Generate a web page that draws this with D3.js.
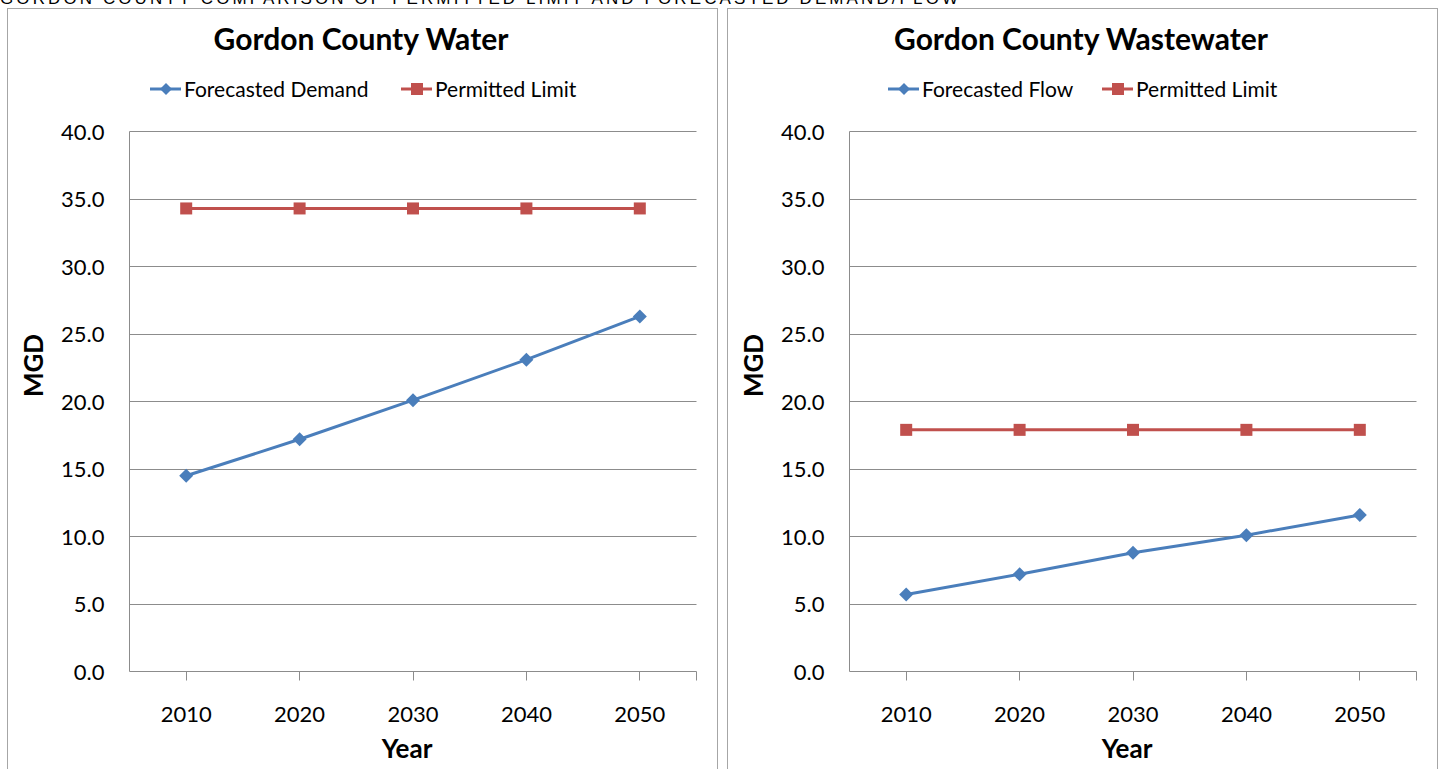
<!DOCTYPE html>
<html>
<head>
<meta charset="utf-8">
<script src="https://cdn.jsdelivr.net/npm/d3@7"></script>
<style>
  body { margin: 0; background: #fff; }
  svg { display: block; font-family: Lato, "Open Sans", sans-serif; }
</style>
</head>
<body>
<div id="chart"></div>
<script>
var years = ["2010", "2020", "2030", "2040", "2050"];
var yTicks = [0, 5, 10, 15, 20, 25, 30, 35, 40];

var waterDemand = [14.5, 17.2, 20.1, 23.1, 26.3];
var waterLimit = [34.3, 34.3, 34.3, 34.3, 34.3];

var wasteFlow = [5.7, 7.2, 8.8, 10.1, 11.6];
var wasteLimit = [17.9, 17.9, 17.9, 17.9, 17.9];

var pageTitle = "GORDON COUNTY COMPARISON OF PERMITTED LIMIT AND FORECASTED DEMAND/FLOW";

var blue = "#4a7ebb";
var red = "#c0504d";

var svgWidth = 1442;
var svgHeight = 769;

var svg = d3.select("#chart")
  .append("svg")
  .attr("width", svgWidth)
  .attr("height", svgHeight);

// heading of the source page, cut by the top edge as in the original
svg.append("text")
  .attr("x", 0)
  .attr("y", 4)
  .attr("font-family", "Liberation Sans, Arial, sans-serif")
  .attr("font-size", "17px")
  .attr("textLength", 958)
  .attr("fill", "#000")
  .text(pageTitle);

function drawPanel(offsetX, title, s1Name, s1, s2Name, s2, legendX) {
  var g = svg.append("g").attr("transform", `translate(${offsetX},0)`);

  g.append("rect")
    .attr("x", 7.5)
    .attr("y", 8.5)
    .attr("width", 710)
    .attr("height", 780)
    .attr("fill", "#fff")
    .attr("stroke", "#a6a6a6")
    .attr("stroke-width", 1);

  var margin = { top: 131.5, left: 129.5 };
  var width = 567;
  var height = 540;

  var x = d3.scaleBand().domain(years).range([0, width]);
  var y = d3.scaleLinear().domain([0, 40]).range([height, 0]);

  var chartGroup = g.append("g")
    .attr("transform", `translate(${margin.left},${margin.top})`);

  // gridlines
  chartGroup.append("g")
    .selectAll("line")
    .data(yTicks)
    .enter()
    .append("line")
    .attr("x1", 0)
    .attr("x2", width)
    .attr("y1", d => Math.round(y(d)))
    .attr("y2", d => Math.round(y(d)))
    .attr("stroke", "#8c8c8c")
    .attr("stroke-width", 1);

  chartGroup.append("line")
    .attr("x1", 0).attr("x2", 0)
    .attr("y1", 0).attr("y2", height)
    .attr("stroke", "#8c8c8c");

  // y tick labels
  chartGroup.append("g")
    .selectAll("text")
    .data(yTicks)
    .enter()
    .append("text")
    .attr("x", -25)
    .attr("y", d => y(d) + 8)
    .attr("text-anchor", "end")
    .attr("font-size", "22px")
    .attr("fill", "#000")
    .text(d => d.toFixed(1));

  // x ticks at category centres plus right edge
  var tickXs = years.map(d => x(d) + x.bandwidth() / 2).concat([width]);
  chartGroup.append("g")
    .selectAll("line")
    .data(tickXs)
    .enter()
    .append("line")
    .attr("x1", d => Math.round(d))
    .attr("x2", d => Math.round(d))
    .attr("y1", height)
    .attr("y2", height + 9)
    .attr("stroke", "#8c8c8c");

  chartGroup.append("g")
    .selectAll("text")
    .data(years)
    .enter()
    .append("text")
    .attr("x", d => x(d) + x.bandwidth() / 2)
    .attr("y", height + 50)
    .attr("text-anchor", "middle")
    .attr("font-size", "22px")
    .attr("fill", "#000")
    .text(d => d);

  // axis titles
  chartGroup.append("text")
    .attr("transform", "rotate(-90)")
    .attr("x", -234)
    .attr("y", -87)
    .attr("text-anchor", "middle")
    .attr("font-size", "26px")
    .attr("font-weight", "bold")
    .text("MGD");

  chartGroup.append("text")
    .attr("x", width / 2 - 6)
    .attr("y", height + 86)
    .attr("text-anchor", "middle")
    .attr("font-size", "26px")
    .attr("font-weight", "bold")
    .text("Year");

  var line = d3.line()
    .x((d, i) => x(years[i]) + x.bandwidth() / 2)
    .y(d => y(d));

  // limit series (squares)
  chartGroup.append("path")
    .datum(s2)
    .attr("d", line)
    .attr("fill", "none")
    .attr("stroke", red)
    .attr("stroke-width", 3);
  chartGroup.append("g")
    .selectAll("rect")
    .data(s2)
    .enter()
    .append("rect")
    .attr("x", (d, i) => x(years[i]) + x.bandwidth() / 2 - 6)
    .attr("y", d => y(d) - 6)
    .attr("width", 12)
    .attr("height", 12)
    .attr("fill", red);

  // forecast series (diamonds)
  chartGroup.append("path")
    .datum(s1)
    .attr("d", line)
    .attr("fill", "none")
    .attr("stroke", blue)
    .attr("stroke-width", 3);
  chartGroup.append("g")
    .selectAll("path")
    .data(s1)
    .enter()
    .append("path")
    .attr("transform", (d, i) => `translate(${x(years[i]) + x.bandwidth() / 2},${y(d)})`)
    .attr("d", "M0,-7L7,0L0,7L-7,0Z")
    .attr("fill", blue);

  // title
  g.append("text")
    .attr("x", 361)
    .attr("y", 50)
    .attr("text-anchor", "middle")
    .attr("font-size", "30px")
    .attr("font-weight", "bold")
    .attr("fill", "#000")
    .text(title);

  // legend
  var legend = g.append("g").attr("transform", "translate(0,89)");
  var items = [
    { name: s1Name, color: blue, shape: "diamond", x0: legendX[0] },
    { name: s2Name, color: red, shape: "square", x0: legendX[1] }
  ];
  items.forEach(function(it) {
    legend.append("line")
      .attr("x1", it.x0).attr("x2", it.x0 + 31)
      .attr("y1", 0).attr("y2", 0)
      .attr("stroke", it.color)
      .attr("stroke-width", 3);
    if (it.shape === "diamond") {
      legend.append("path")
        .attr("transform", `translate(${it.x0 + 16},0)`)
        .attr("d", "M0,-6L6,0L0,6L-6,0Z")
        .attr("fill", it.color);
    } else {
      legend.append("rect")
        .attr("x", it.x0 + 10).attr("y", -6)
        .attr("width", 12).attr("height", 12)
        .attr("fill", it.color);
    }
    legend.append("text")
      .attr("x", it.x0 + 34)
      .attr("y", 8)
      .attr("font-size", "21px")
      .attr("fill", "#000")
      .text(it.name);
  });
}

drawPanel(0, "Gordon County Water", "Forecasted Demand", waterDemand, "Permitted Limit", waterLimit, [150, 401]);
drawPanel(720, "Gordon County Wastewater", "Forecasted Flow", wasteFlow, "Permitted Limit", wasteLimit, [168, 382]);
</script>
</body>
</html>
